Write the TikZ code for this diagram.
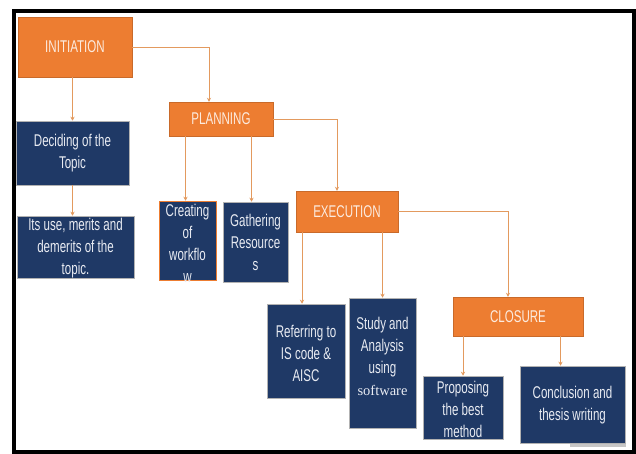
\documentclass[tikz,border=0pt]{standalone}
\usepackage{fontspec}
\setmainfont[FakeStretch=0.68]{Liberation Sans}
\newfontfamily\swserif{Liberation Serif}
\usetikzlibrary{arrows.meta}
\definecolor{orng}{HTML}{ED7D31}
\definecolor{navyb}{HTML}{1F3966}
\definecolor{conn}{HTML}{E39A5E}
\definecolor{navytext}{HTML}{E8EBF2}
\definecolor{orngtext}{HTML}{FCEBDF}
\tikzset{
  obox/.style={fill=orng, draw=orng!85!black, line width=0.4pt, inner sep=0pt},
  nbox/.style={fill=navyb, draw=gray!60, line width=0.5pt, inner sep=0pt},
  otxt/.style={text=orngtext, align=center, inner sep=0pt, font=\fontsize{17}{22}\selectfont},
  ntxt/.style={text=navytext, align=center, inner sep=0pt, font=\fontsize{17}{22}\selectfont},
  cline/.style={draw=conn, line width=0.9pt, -{Stealth[length=4pt,width=4pt]}},
}
\begin{document}
\begin{tikzpicture}[x=1pt,y=-1pt]
\useasboundingbox (0,0) rectangle (636,454);
\fill[white] (0,0) rectangle (636,454);
\draw[line width=4.5pt] (14,11) rectangle (634,452);
% boxes
\node[obox, minimum width=114pt, minimum height=60pt] (init) at (75,47) {};
\node[otxt] (initT) at (init.center) {INITIATION};
\node[nbox, minimum width=113pt, minimum height=64pt] (dec) at (72.5,153) {};
\node[ntxt] (decT) at (dec.center) {Deciding of the\\Topic};
\node[nbox, minimum width=117pt, minimum height=62pt] (its) at (75.5,247) {};
\node[ntxt] (itsT) at ([yshift=-1pt]its.center) {Its use, merits and\\demerits of the\\topic.};
\node[obox, minimum width=104pt, minimum height=34pt] (plan) at (221,119) {};
\node[otxt] (planT) at (plan.center) {PLANNING};
\node[nbox, draw=orng, minimum width=57pt, minimum height=79pt] (creat) at (187.5,240.5) {};
\node[ntxt] (creatT) at ([yshift=-3pt]creat.center) {Creating\\of\\workflo\\w};
\node[nbox, minimum width=65pt, minimum height=80pt] (gath) at (255.5,242) {};
\node[ntxt] (gathT) at (gath.center) {Gathering\\Resource\\s};
\node[obox, minimum width=102pt, minimum height=41pt] (exec) at (347,211.5) {};
\node[otxt] (execT) at (exec.center) {EXECUTION};
\node[nbox, minimum width=78pt, minimum height=94pt] (refer) at (306,351) {};
\node[ntxt] (referT) at ([yshift=-2pt]refer.center) {Referring to\\IS code \&\\AISC};
\node[nbox, minimum width=67pt, minimum height=130pt] (study) at (382.5,363) {};
\node[ntxt] (studyT) at ([yshift=7pt]study.center) {Study and\\Analysis\\using\\{\swserif\fontsize{14.5}{22}\selectfont software}};
\node[obox, minimum width=130pt, minimum height=39pt] (clos) at (518,316.5) {};
\node[otxt] (closT) at (clos.center) {CLOSURE};
\node[nbox, minimum width=80pt, minimum height=63pt] (prop) at (463,407.5) {};
\node[ntxt] (propT) at ([yshift=-2pt]prop.center) {Proposing\\the best\\method};
\node[nbox, minimum width=105pt, minimum height=77pt] (concl) at (572.5,404.5) {};
\node[ntxt] (conclT) at ([yshift=-1pt]concl.center) {Conclusion and\\thesis writing};
\fill[gray!45] (570,443.5) rectangle (626,447);
% connectors
\draw[cline] (init.east) -| ([xshift=-12pt]plan.north);
\draw[cline] (plan.east) -| ([xshift=-10pt]exec.north);
\draw[cline] (exec.east) -| ([xshift=-10pt]clos.north);
\draw[cline] (dec.north |- init.south) -- (dec.north);
\draw[cline] (dec.south) -- (dec.south |- its.north);
\draw[cline] ([xshift=-2pt]creat.north |- plan.south) -- ([xshift=-2pt]creat.north);
\draw[cline] ([xshift=-4pt]gath.north |- plan.south) -- ([xshift=-4pt]gath.north);
\draw[cline] ([xshift=-4pt]refer.north |- exec.south) -- ([xshift=-4pt]refer.north);
\draw[cline] (study.north |- exec.south) -- (study.north);
\draw[cline] (prop.north |- clos.south) -- (prop.north);
\draw[cline] ([xshift=-12pt]concl.north |- clos.south) -- ([xshift=-12pt]concl.north);
\end{tikzpicture}
\end{document}
